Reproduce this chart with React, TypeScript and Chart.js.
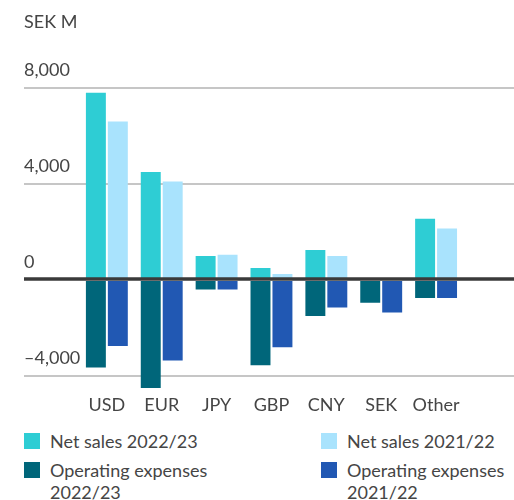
import React, { useEffect, useRef } from 'react';
import { Chart, registerables } from 'chart.js';

Chart.register(...registerables);

// ---- data ----
const categories = ['USD', 'EUR', 'JPY', 'GBP', 'CNY', 'SEK', 'Other'];
const netSales2223 = [7800, 4500, 1000, 500, 1250, 0, 2550];
const netSales2122 = [6600, 4100, 1050, 250, 1000, 0, 2150];
const opex2223 = [-3650, -4500, -400, -3550, -1500, -950, -750];
const opex2122 = [-2750, -3350, -400, -2800, -1150, -1350, -750];
const yTicks = [-4000, 0, 4000, 8000];
const unitLabel = 'SEK M';
const seriesNames = ['Net sales 2022/23', 'Net sales 2021/22', 'Operating expenses 2022/23', 'Operating expenses 2021/22'];

// ---- style ----
const seriesColors = ['#2ECDD4', '#A9E3FD', '#00667A', '#2158B3'];
const seriesStacks = ['a', 'b', 'a', 'b'];
const FONT = 'Lato';
const TEXT = '#454545';

const zeroLinePlugin = {
  id: 'zeroLine',
  afterDatasetsDraw(chart: any) {
    const { ctx, chartArea, scales } = chart;
    const y = scales.y.getPixelForValue(0) - 1;
    ctx.save();
    ctx.strokeStyle = '#3a3a3a';
    ctx.lineWidth = 3.5;
    ctx.beginPath();
    ctx.moveTo(chartArea.left, y);
    ctx.lineTo(chartArea.right, y);
    ctx.stroke();
    ctx.restore();
  },
};

export default function App() {
  const ref = useRef<HTMLCanvasElement | null>(null);

  useEffect(() => {
    if (!ref.current) return;
    const series = [netSales2223, netSales2122, opex2223, opex2122];
    const chart = new Chart(ref.current, {
      type: 'bar',
      data: {
        datasets: series.map((vals, si) => ({
          label: seriesNames[si],
          data: vals.map((v, i) => ({ x: i, y: v })),
          backgroundColor: seriesColors[si],
          stack: seriesStacks[si],
          borderWidth: 0,
          categoryPercentage: 0.8,
          barPercentage: 20 / 22,
        })),
      },
      options: {
        responsive: false,
        animation: false,
        layout: { padding: { left: 24, right: 0, top: 0, bottom: 0 } },
        plugins: {
          legend: { display: false },
          tooltip: { enabled: false },
          title: {
            display: true,
            text: unitLabel,
            align: 'start',
            color: TEXT,
            font: { family: FONT, size: 18, weight: 'normal', lineHeight: 1.2 },
            padding: { top: 11.2, bottom: 55.2 },
          },
        },
        scales: {
          x: {
            type: 'linear',
            offset: false,
            min: -1.51,
            max: 7.42,
            grid: { display: false, drawTicks: false, offset: false },
            border: { display: false },
            afterBuildTicks: (scale: any) => {
              scale.ticks = categories.map((_, i) => ({ value: i }));
            },
            ticks: {
              autoSkip: false,
              maxRotation: 0,
              padding: 4,
              color: TEXT,
              font: { family: FONT, size: 18, lineHeight: 1.2 },
              callback: (v: any) => categories[v] ?? '',
            },
          },
          y: {
            type: 'linear',
            min: -4600,
            max: 8000,
            stacked: true,
            border: { display: false },
            grid: {
              drawTicks: false,
              color: (c: any) => (c.tick && c.tick.value === 0 ? 'rgba(0,0,0,0)' : '#c6c6c6'),
              lineWidth: 2,
            },
            afterBuildTicks: (scale: any) => {
              scale.ticks = yTicks.map((v) => ({ value: v }));
            },
            ticks: {
              mirror: true,
              padding: 0,
              labelOffset: -18,
              color: TEXT,
              font: { family: FONT, size: 18, lineHeight: 1.2 },
              callback: (v: any) => {
                const n = Number(v);
                const s = Math.abs(n).toLocaleString('en-US');
                return n < 0 ? '\u2013' + s : s;
              },
            },
          },
        },
      },
      plugins: [zeroLinePlugin],
    } as any);
    return () => chart.destroy();
  }, []);

  const legendPos = [
    { left: 24, top: 433 },
    { left: 321, top: 433 },
    { left: 24, top: 462 },
    { left: 321, top: 462 },
  ];

  return (
    <div style={{ position: 'absolute', left: 0, top: 0, width: 514, height: 500, background: '#fff' }}>
      <canvas ref={ref} width={514} height={420} style={{ display: 'block' }} />
      {seriesNames.map((name, i) => (
        <div key={name} style={{ position: 'absolute', left: legendPos[i].left, top: legendPos[i].top }}>
          <div style={{ position: 'absolute', left: 0, top: 0, width: 16, height: 16, background: seriesColors[i] }} />
          <div
            style={{
              position: 'absolute',
              left: 26,
              top: -3.25,
              width: 170,
              fontFamily: FONT,
              fontSize: 18,
              lineHeight: '22.5px',
              color: TEXT,
              whiteSpace: 'normal',
            }}
          >
            {name}
          </div>
        </div>
      ))}
    </div>
  );
}
